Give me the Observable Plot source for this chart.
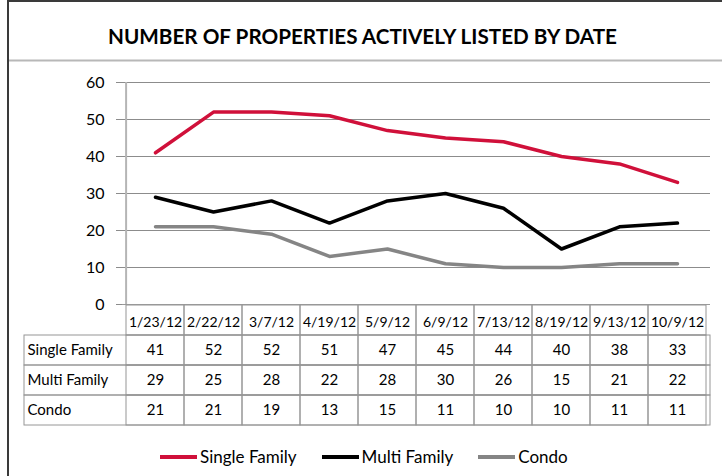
<!DOCTYPE html>
<html>
<head>
<meta charset="utf-8">
<script src="https://cdn.jsdelivr.net/npm/d3@7"></script>
<script src="https://cdn.jsdelivr.net/npm/@observablehq/plot@0.6"></script>
<style>
  html, body { margin: 0; padding: 0; background: #fff; }
  #wrap { position: relative; width: 722px; height: 476px; overflow: hidden; background: #fff; font-family: Lato, "Open Sans", sans-serif; }
  #wrap svg { position: absolute; left: 0; top: 0; background: transparent !important; max-width: none !important; }
  #legend { position: absolute; left: 160px; top: 446px; display: flex; align-items: center; font-size: 17px; color: #000; white-space: nowrap; }
  #legend .item { display: flex; align-items: center; margin-right: 25px; }
  #legend .sw { width: 37px; height: 4px; margin-right: 3px; }
</style>
</head>
<body>
<div id="wrap"></div>
<script>
// ---- data ----
const title = "NUMBER OF PROPERTIES ACTIVELY LISTED BY DATE";
const dates = ["1/23/12","2/22/12","3/7/12","4/19/12","5/9/12","6/9/12","7/13/12","8/19/12","9/13/12","10/9/12"];
const seriesNames = ["Single Family","Multi Family","Condo"];
const singleFamily = [41,52,52,51,47,45,44,40,38,33];
const multiFamily  = [29,25,28,22,28,30,26,15,21,22];
const condo        = [21,21,19,13,15,11,10,10,11,11];
const seriesColors = ["#d0103a","#000000","#858585"];
const yTicks = [0,10,20,30,40,50,60];

const seriesValues = [singleFamily, multiFamily, condo];
const lineData = seriesNames.flatMap((name, s) =>
  dates.map((date, i) => ({date, value: seriesValues[s][i], series: name})));

const W = 722, H = 476;
const plotLeft = 122, plotRight = 710, plotTop = 82, plotBottom = 304, tableBottom = 425;
const bw = (plotRight - plotLeft) / dates.length;
const wrap = document.getElementById("wrap");

// ---- frame, separator and title ----
const deco = d3.create("svg").attr("width", W).attr("height", H);
deco.append("line").attr("x1", 8).attr("x2", 8).attr("y1", 0).attr("y2", H).attr("stroke", "#3a3a3a").attr("stroke-width", 2);
deco.append("line").attr("x1", 8).attr("x2", W).attr("y1", 1).attr("y2", 1).attr("stroke", "#3a3a3a").attr("stroke-width", 2);
deco.append("line").attr("x1", 9).attr("x2", W).attr("y1", 60.5).attr("y2", 60.5).attr("stroke", "#b8b8b8").attr("stroke-width", 2);
deco.append("text").attr("x", 108).attr("y", 43.5)
  .attr("font-family", "Lato, sans-serif").attr("font-weight", 700).attr("font-size", 21)
  .attr("textLength", 509).attr("lengthAdjust", "spacingAndGlyphs").attr("fill", "#000")
  .text(title);
wrap.appendChild(deco.node());

// ---- line chart ----
const chart = Plot.plot({
  width: W, height: H,
  marginTop: plotTop, marginBottom: H - plotBottom, marginLeft: plotLeft, marginRight: W - plotRight,
  style: {fontFamily: "Lato, sans-serif", fontSize: "15px", background: "transparent", color: "#000"},
  x: {type: "band", domain: dates, padding: 0, axis: null},
  y: {domain: [0, 60], axis: null},
  color: {domain: seriesNames, range: seriesColors},
  marks: [
    Plot.ruleY(yTicks.filter(v => v > 0), {stroke: "#8c8c8c", strokeWidth: 1}),
    Plot.ruleY([0], {stroke: "#9a9a9a", strokeWidth: 1}),
    Plot.ruleX([dates[0]], {x: d => d, dx: -bw / 2, y1: 0, y2: 60, stroke: "#b5b5b5", strokeWidth: 2}),
    Plot.axisY(yTicks, {tickSize: 6, tickPadding: 12, stroke: "#8c8c8c", fill: "#000", fontSize: 16, label: null}),
    Plot.line(lineData, {x: "date", y: "value", z: "series", stroke: "series", strokeWidth: 3.5, strokeLinejoin: "round", strokeLinecap: "round"})
  ]
});
wrap.appendChild(chart);

// ---- data table ----
const cellData = seriesNames.flatMap((name, s) =>
  dates.map((date, i) => ({date, row: name, value: seriesValues[s][i]})));
const table = Plot.plot({
  width: W, height: H,
  marginTop: plotBottom, marginBottom: H - tableBottom, marginLeft: 24, marginRight: W - plotRight,
  style: {fontFamily: "Lato, sans-serif", fontSize: "15px", background: "transparent", color: "#000"},
  x: {type: "band", domain: dates, range: [plotLeft, plotRight], padding: 0, axis: null},
  y: {type: "band", domain: ["header", ...seriesNames], padding: 0, axis: null},
  marks: [
    Plot.cell(seriesNames, {y: d => d, fill: "none", stroke: "#969696", strokeWidth: 1}),
    Plot.cell(dates, {x: d => d, y: () => "header", fill: "none", stroke: "#969696", strokeWidth: 1}),
    Plot.cell(cellData, {x: "date", y: "row", fill: "none", stroke: "#969696", strokeWidth: 1}),
    Plot.text(dates, {x: d => d, y: () => "header", text: d => d, fontSize: 14, dy: 2, fill: "#000"}),
    Plot.text(cellData, {x: "date", y: "row", text: d => String(d.value), fontSize: 15, fill: "#000"}),
    Plot.text(seriesNames, {y: d => d, text: d => d, frameAnchor: "left", textAnchor: "start", dx: 3, fontSize: 15, fill: "#000"})
  ]
});
wrap.appendChild(table);

// ---- legend ----
const legend = document.createElement("div");
legend.id = "legend";
seriesNames.forEach((name, s) => {
  const item = document.createElement("div");
  item.className = "item";
  const sw = document.createElement("span");
  sw.className = "sw";
  sw.style.background = seriesColors[s];
  const lab = document.createElement("span");
  lab.textContent = name;
  item.appendChild(sw);
  item.appendChild(lab);
  legend.appendChild(item);
});
wrap.appendChild(legend);
</script>
</body>
</html>
